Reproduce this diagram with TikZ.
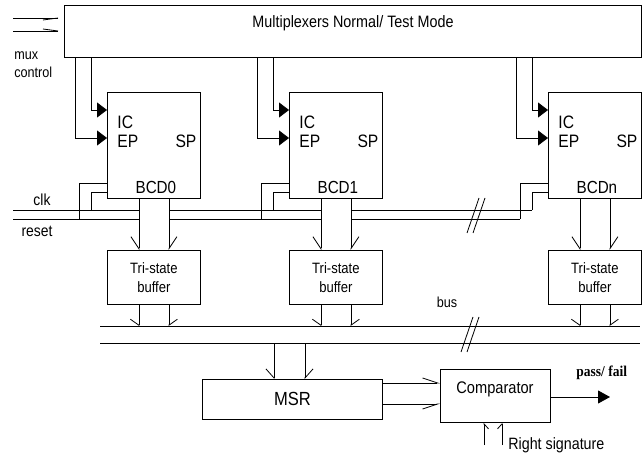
\documentclass[tikz,border=0pt]{standalone}
\usepackage{fontspec}
\setmainfont[FakeStretch=0.87]{Liberation Sans}
\newfontfamily\pffont[FakeStretch=0.9]{Liberation Serif}
\usetikzlibrary{arrows.meta, positioning}

\tikzset{
  box/.style={draw, line width=0.8pt, inner sep=0pt, anchor=north west},
  lbl/.style={inner sep=0pt},
  fin/.style={-{Triangle[length=10pt,width=15pt]}},
  fout/.style={-{Triangle[length=12pt,width=13pt]}},
  hbl/.style 2 args={-{Straight Barb[harpoon,swap,length=#1,width=#2]}},
  hbr/.style 2 args={-{Straight Barb[harpoon,length=#1,width=#2]}},
}
\newcommand{\fs}[1]{\fontsize{#1}{#1}\selectfont}

\begin{document}
\begin{tikzpicture}[x=1pt, y=-1pt, line width=0.8pt]
\useasboundingbox (0,0) rectangle (642,457);

% multiplexers
\node[box, minimum width=577pt, minimum height=52pt] (mux) at (64,5) {};
\node[lbl, font=\fs{16.5}] (muxtxt) at (353,23) {Multiplexers Normal/ Test Mode};
\coordinate (mc1) at (13,18);
\coordinate (mc2) at (13,31);
\draw[hbl={15pt}{4pt}] (mc1) -- (mc1 -| mux.west);
\draw[hbr={15pt}{4pt}] (mc2) -- (mc2 -| mux.west);
\node[lbl, anchor=west, font=\fs{14.5}] (muxctl) at (14,56) {mux};
\node[lbl, anchor=west, font=\fs{14.5}] (muxctl2) at (14,72) {control};

% BCD blocks
\foreach \x/\n in {107/0, 289/1, 548/n} {
  \node[box, minimum width=93pt, minimum height=106pt] (bcd\n) at (\x,92) {};
  \node[lbl, anchor=west, font=\fs{18}] at ([shift={(10,30)}]bcd\n.north west) {IC};
  \node[lbl, anchor=west, font=\fs{18}] at ([shift={(10,49)}]bcd\n.north west) {EP};
  \node[lbl, anchor=east, font=\fs{18}] at ([shift={(-4,49)}]bcd\n.north east) {SP};
  \node[lbl, font=\fs{17.5}] at ([shift={(2,-11)}]bcd\n.south) {BCD\n};
  \coordinate (f1\n) at ([shift={(-16,0)}]bcd\n.north west);
  \coordinate (f2\n) at ([shift={(-32,0)}]bcd\n.north west);
  \draw[fin] (f1\n |- mux.south) |- ([shift={(0,18)}]bcd\n.north west);
  \draw[fin] (f2\n |- mux.south) |- ([shift={(0,46)}]bcd\n.north west);
}

% clk and reset
\coordinate (clk) at (13,210);
\coordinate (rst) at (13,219);
\draw (clk) -- (f1n |- clk);
\draw (rst) -- ([shift={(-28,0)}]bcdn.north west |- rst);
\node[lbl, font=\fs{16}] (clktxt) at (42,200) {clk};
\node[lbl, font=\fs{16}] (rsttxt) at (37,231) {reset};
\draw (467,233) -- (479,198);
\draw (473,233) -- (485,198);

% bus
\coordinate (bus1) at (100,326);
\coordinate (bus2) at (100,343);
\draw (bus1) -- (640,326);
\draw (bus2) -- (640,343);
\node[lbl, font=\fs{14.5}] (bustxt) at (447,302) {bus};
\draw (461,352) -- (473,317);
\draw (467,352) -- (479,317);

\foreach \x/\n in {107/0, 289/1, 548/n} {
  \coordinate (r\n) at ([shift={(-28,0)}]bcd\n.north west);
  \draw ([shift={(0,91)}]bcd\n.north west) -| (r\n |- rst);
  \draw ([shift={(0,100)}]bcd\n.north west) -| (f1\n |- clk);
  \fill[white] ([shift={(-15,6)}]bcd\n.south) rectangle ([shift={(15,28)}]bcd\n.south);
  \node[box, minimum width=93pt, minimum height=54pt, align=center,
        font=\fs{15}] (tsb\n) at (\x,250) {Tri-state\\[4pt]buffer};
  \draw[hbl={12pt}{16pt}] ([shift={(-15,0)}]bcd\n.south) -- ([shift={(-15,0)}]tsb\n.north);
  \draw[hbr={12pt}{16pt}] ([shift={(15,0)}]bcd\n.south) -- ([shift={(15,0)}]tsb\n.north);
  \coordinate (o1\n) at ([shift={(-15,0)}]tsb\n.south);
  \coordinate (o2\n) at ([shift={(15,0)}]tsb\n.south);
  \draw[hbl={6pt}{17pt}] (o1\n) -- (o1\n |- bus1);
  \draw[hbr={6pt}{17pt}] (o2\n) -- (o2\n |- bus1);
}

% MSR and comparator
\node[box, minimum width=180pt, minimum height=40pt, font=\fs{19}] (msr) at (202,379) {MSR};
\coordinate (m1) at (274,343);
\coordinate (m2) at (305,343);
\draw[hbl={9pt}{16pt}] (m1) -- (m1 |- msr.north);
\draw[hbr={9pt}{16pt}] (m2) -- (m2 |- msr.north);
\node[box, minimum width=110pt, minimum height=53pt] (cmp) at (440,369) {};
\node[lbl, font=\fs{16.8}] (cmptxt) at (495,389) {Comparator};
\coordinate (c1) at ([shift={(0,4)}]msr.north east);
\coordinate (c2) at ([shift={(0,25)}]msr.north east);
\draw[hbr={15pt}{10pt}] (c1) -- (c1 -| cmp.west);
\draw[hbl={15pt}{10pt}] (c2) -- (c2 -| cmp.west);
\coordinate (pf) at (610,397);
\draw[fout] (cmp.east |- pf) -- (pf);
\node[lbl, anchor=west, font=\pffont\bfseries\fs{15}] (pftxt) at (576,373) {pass/ fail};
\coordinate (rs1) at (484,445);
\coordinate (rs2) at (502,445);
\draw[hbl={5pt}{9pt}] (rs1) -- (rs1 |- cmp.south);
\draw[hbr={5pt}{9pt}] (rs2) -- (rs2 |- cmp.south);
\node[lbl, anchor=west, font=\fs{16.4}] (rstxt) at (508,445) {Right signature};
\end{tikzpicture}
\end{document}
